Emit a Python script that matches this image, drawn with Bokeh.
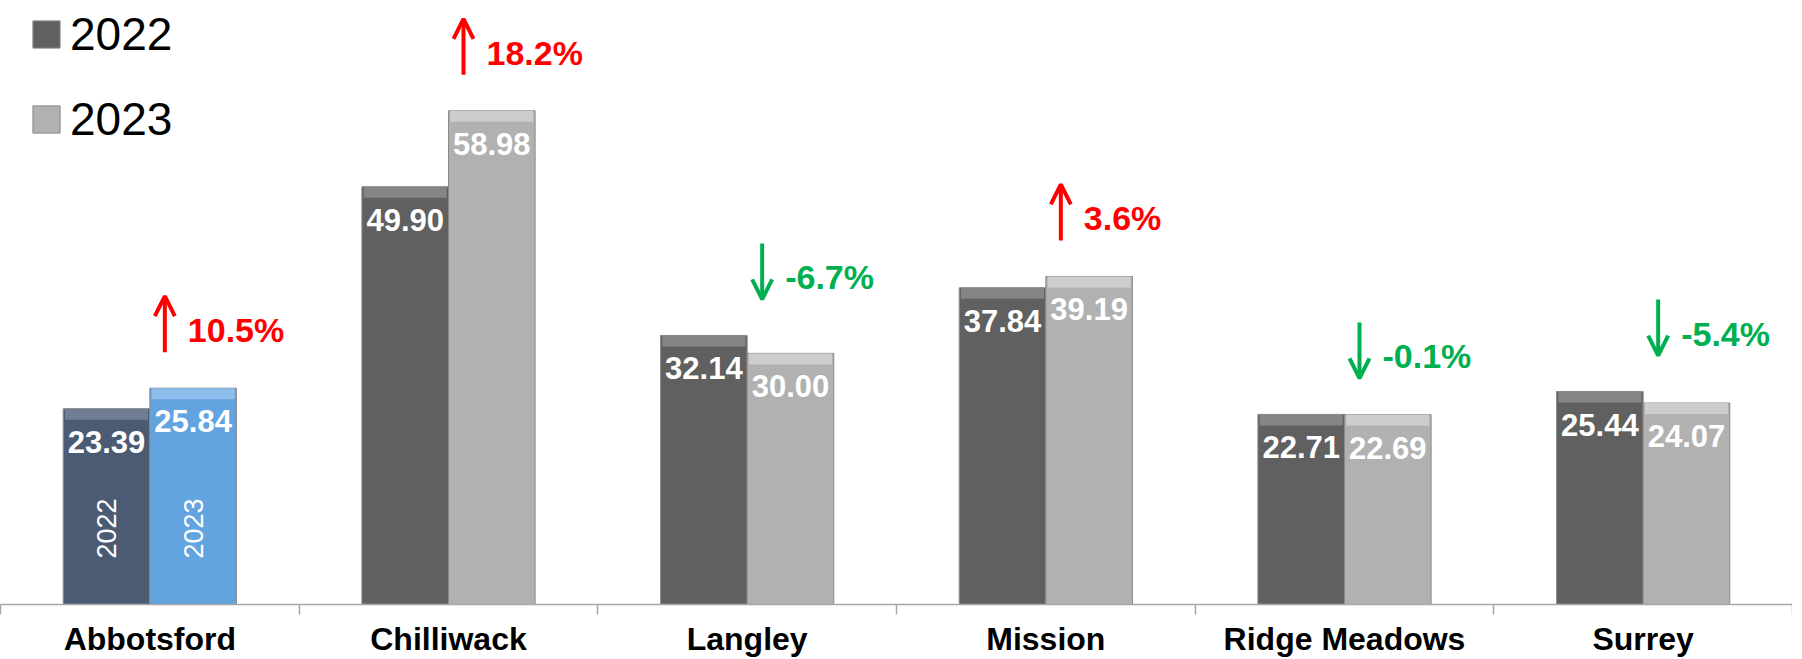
import numpy as np
from bokeh.plotting import figure
from bokeh.models import (ColumnDataSource, Range1d, FixedTicker, Legend, LegendItem,
                          Arrow, OpenHead)
from bokeh.core.properties import value
from bokeh.embed import file_html
from bokeh.resources import INLINE

# ---------------- data ----------------
categories = ["Abbotsford", "Chilliwack", "Langley", "Mission", "Ridge Meadows", "Surrey"]
series = ["2022", "2023"]
values_2022 = [23.39, 49.90, 32.14, 37.84, 22.71, 25.44]
values_2023 = [25.84, 58.98, 30.00, 39.19, 22.69, 24.07]
highlight = "Abbotsford"

# ---------------- styles ----------------
FONT = "Liberation Sans"
W, FRAME_H = 1792, 596
Y_END = 71.2
PXY = FRAME_H / Y_END          # px per y unit
PXX = W / len(categories)      # px per x unit
BAR_W = 0.29
DODGE = 0.145

col_22 = {"main": "#606060", "band": "#858585"}
col_23 = {"main": "#b1b1b1", "band": "#cdcdcd"}
hcol_22 = {"main": "#4c5b74", "band": "#6f7d95"}
hcol_23 = {"main": "#62a3e0", "band": "#8dbdea"}
RED, GREEN = "#ff0000", "#00b050"

n = len(categories)
idx = np.arange(n) + 0.5

def bar_source(vals, off, normal, hl):
    return ColumnDataSource(dict(
        x=idx + off,
        top=vals,
        band_bottom=[v - 11 / PXY for v in vals],
        main=[hl["main"] if c == highlight else normal["main"] for c in categories],
        band=[hl["band"] if c == highlight else normal["band"] for c in categories],
        label=[f"{v:.2f}" for v in vals],
    ))

src22 = bar_source(values_2022, -DODGE, col_22, hcol_22)
src23 = bar_source(values_2023, DODGE, col_23, hcol_23)

p = figure(frame_width=W, frame_height=FRAME_H, output_backend="svg", toolbar_location=None,
           x_range=Range1d(0, n), y_range=Range1d(0, Y_END),
           min_border_left=0, min_border_right=0, min_border_top=8, min_border_bottom=0)
p.outline_line_color = None
p.grid.visible = False
p.yaxis.visible = False
p.background_fill_color = "white"

renderers = []
for src in (src22, src23):
    r = p.vbar(x="x", top="top", bottom=0, width=BAR_W, source=src,
               fill_color="main", line_color="#8a8a8a", line_width=1)
    p.vbar(x="x", top="top", bottom="band_bottom", width=BAR_W - 0.012, source=src,
           fill_color="band", line_color=None)
    p.text(x="x", y="top", text="label", source=src, text_color="white",
           text_font=value(FONT), text_font_style="bold", text_font_size="31px",
           text_align="center", text_baseline="middle", y_offset=33)
    renderers.append(r)

# rotated series names inside the highlighted category
hi = categories.index(highlight)
p.text(x=[idx[hi] - DODGE, idx[hi] + DODGE], y=[76 / PXY, 76 / PXY], text=series,
       angle=np.pi / 2, text_color="white", text_font=value(FONT), text_font_size="27px",
       text_align="center", text_baseline="middle")

# percentage change annotations
pct = [(b / a - 1) * 100 for a, b in zip(values_2022, values_2023)]
GAP, ALEN = 36 / PXY, 56 / PXY
ax = idx + 15 / PXX
base = [max(a, b) + GAP for a, b in zip(values_2022, values_2023)]
up = dict(x=[], ys=[], ye=[])
down = dict(x=[], ys=[], ye=[])
for i, d in enumerate(pct):
    tgt = up if d > 0 else down
    tgt["x"].append(ax[i])
    if d > 0:
        tgt["ys"].append(base[i]); tgt["ye"].append(base[i] + ALEN)
    else:
        tgt["ys"].append(base[i] + ALEN); tgt["ye"].append(base[i])
for d, color in ((up, RED), (down, GREEN)):
    p.add_layout(Arrow(x_start="x", y_start="ys", x_end="x", y_end="ye",
                       source=ColumnDataSource(d), line_color=color, line_width=4,
                       end=OpenHead(size=20, line_color=color, line_width=4)))

p.text(x=ax + 23 / PXX, y=[b + ALEN / 2 for b in base],
       text=[f"{d:.1f}%" for d in pct],
       text_color=[RED if d > 0 else GREEN for d in pct],
       text_font=value(FONT), text_font_style="bold", text_font_size="34px",
       text_align="left", text_baseline="middle", y_offset=6)

# x axis: labels at centres, ticks at boundaries
xa = p.xaxis[0]
xa.ticker = FixedTicker(ticks=list(idx), minor_ticks=list(range(n + 1)))
xa.major_label_overrides = {float(x): c for x, c in zip(idx, categories)}
xa.major_tick_out = 0
xa.major_tick_in = 0
xa.minor_tick_out = 10
xa.minor_tick_in = 0
xa.minor_tick_line_color = "#a6a6a6"
xa.minor_tick_line_width = 1.5
xa.axis_line_color = "#a6a6a6"
xa.axis_line_width = 1.5
xa.major_label_text_font = FONT
xa.major_label_text_font_style = "bold"
xa.major_label_text_font_size = "32px"
xa.major_label_text_color = "black"
xa.major_label_text_line_height = 1.0
xa.major_label_standoff = 6

legend = Legend(items=[LegendItem(label=s, renderers=[r], index=1) for s, r in zip(series, renderers)],
                location=(29, 458), orientation="vertical", glyph_width=34, glyph_height=34,
                label_text_font=FONT, label_text_font_size="46px", label_text_color="black",
                label_standoff=7, spacing=31, padding=0, margin=0,
                border_line_color=None, background_fill_alpha=0)
p.add_layout(legend)

open("out.html", "w").write(file_html(p, INLINE))
